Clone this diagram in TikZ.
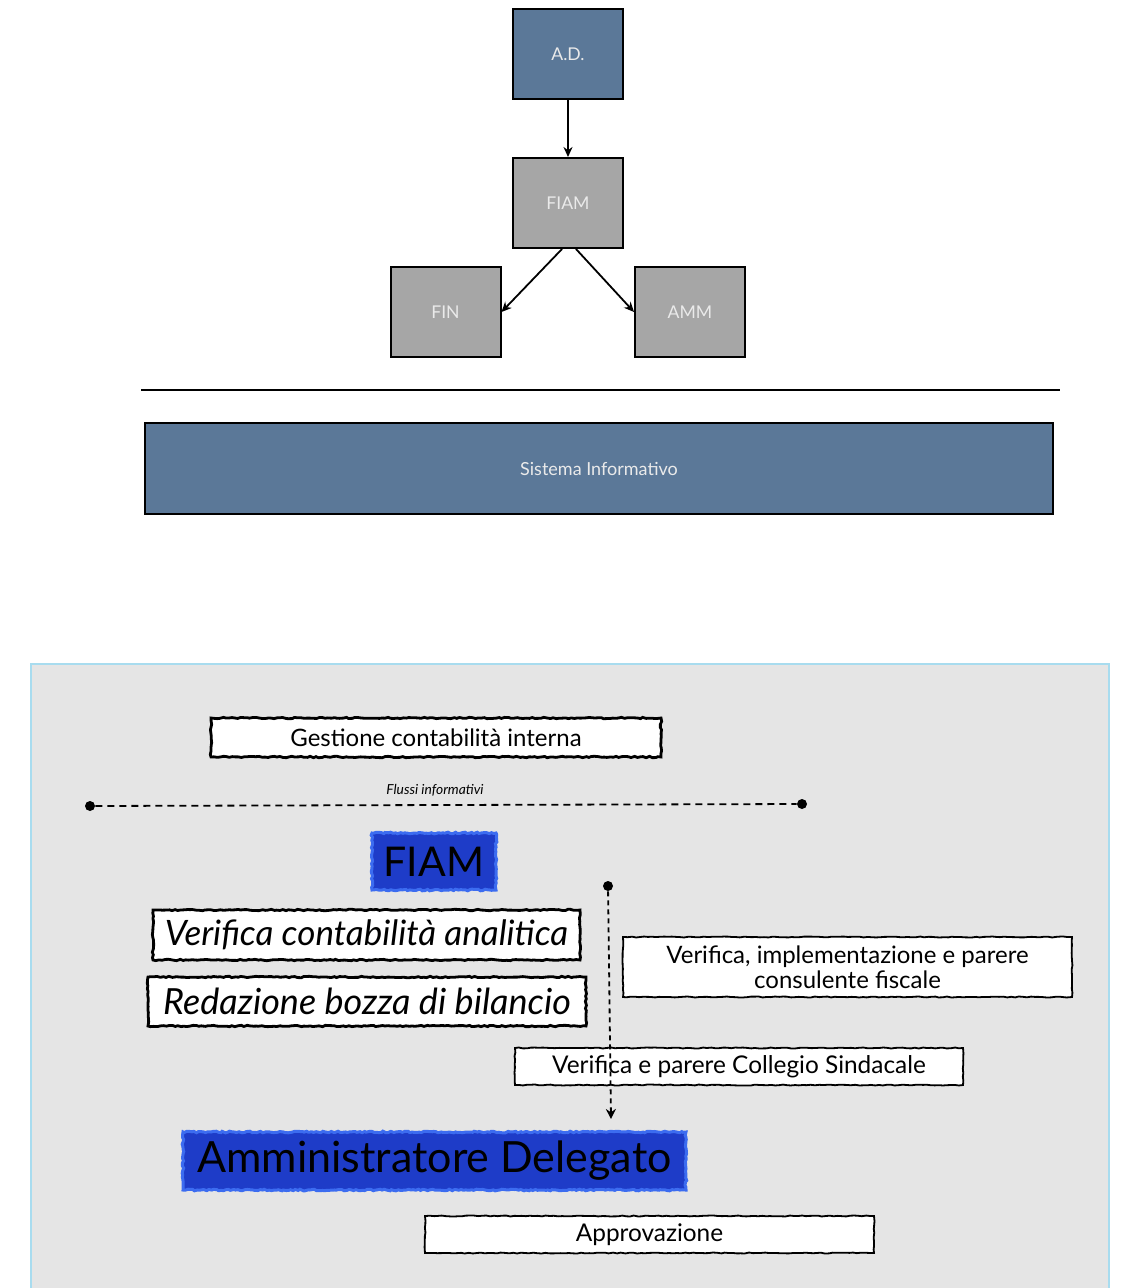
\documentclass[tikz,border=0pt]{standalone}
\usepackage{fontspec}
\setmainfont{Lato}
\usetikzlibrary{arrows.meta,decorations.pathmorphing}
\definecolor{steel}{HTML}{5B7898}
\definecolor{boxgray}{HTML}{A6A6A6}
\definecolor{panel}{HTML}{E5E5E5}
\definecolor{paneledge}{HTML}{A8DCEF}
\definecolor{brightblue}{HTML}{1E3CC8}
\definecolor{blueedge}{HTML}{3C6CF0}
\definecolor{txtlight}{HTML}{EAEAEA}
\tikzset{
  topbox/.style={draw=black, line width=1pt, minimum width=55pt, minimum height=45pt, inner sep=0pt, text=txtlight, font=\fontsize{8.8}{10}\selectfont},
  rough/.style={draw=black, line width=1.4pt, fill=white, inner sep=0pt,
     decorate, decoration={random steps, segment length=1.5pt, amplitude=0.35pt}},
  thinrough/.style={draw=black, line width=0.9pt, fill=white, inner sep=0pt,
     decorate, decoration={random steps, segment length=2pt, amplitude=0.25pt}},
  bluebox/.style={fill=brightblue, draw=blueedge, line width=1.5pt, inner sep=0pt,
     decorate, decoration={random steps, segment length=1.2pt, amplitude=0.4pt}},
  conn/.style={-{Stealth[length=5pt,width=4.5pt]}, line width=0.9pt},
  dot/.style={circle, fill=black, inner sep=0pt, minimum size=5pt},
}
\pgfmathsetseed{7}
\begin{document}
\begin{tikzpicture}[x=0.5pt,y=-0.5pt]
\useasboundingbox (0,0) rectangle (1126,1288);
% top part
\node[topbox, fill=steel] (ad) at (568,54) {A.D.};
\node[topbox, fill=boxgray] (fiam) at (568,203) {FIAM};
\node[topbox, fill=boxgray] (fin) at (445.5,312) {FIN};
\node[topbox, fill=boxgray] (amm) at (690,312) {AMM};
\draw[conn] (ad.south) -- (fiam.north);
\draw[conn] ([xshift=-3pt]fiam.south) -- (fin.east);
\draw[conn] ([xshift=4pt]fiam.south) -- (amm.west);
\coordinate (sepl) at (141,390);
\coordinate (sepr) at (1060,390);
\draw[line width=1.2pt] (sepl) -- (sepr);
\node[draw=black, line width=1pt, fill=steel, minimum width=454pt, minimum height=45.5pt, inner sep=0pt, text=txtlight, font=\fontsize{9}{10}\selectfont] (si) at (599,468.5) {Sistema Informativo};
% bottom panel
\fill[panel] (31,664) rectangle (1109,1300);
\draw[paneledge, line width=1.2pt] (31,1300) -- (31,664) -- (1109,664) -- (1109,1300);
\node[rough, minimum width=225pt, minimum height=19.5pt, font=\fontsize{12}{14}\selectfont] (gest) at (436,737.5) {Gestione contabilità interna};
\node[font=\itshape\fontsize{6.9}{8}\selectfont] (flussi) at (435,790) {Flussi informativi};
\node[dot] (dl) at (90,806) {};
\node[dot] (dr) at (802,804) {};
\draw[line width=0.9pt, dash pattern=on 3.5pt off 2.5pt] (dl) -- (dr);
\node[bluebox, minimum width=62pt, minimum height=28.5pt, font=\fontsize{20.5}{22}\selectfont] (fiamb) at (434,861.5) {FIAM};
\node[rough, minimum width=213.5pt, minimum height=25pt, font=\itshape\fontsize{17.5}{19}\selectfont] (vca) at (366.5,935) {Verifica contabilità analitica};
\node[rough, minimum width=219pt, minimum height=24.5pt, font=\itshape\fontsize{18}{20}\selectfont] (rbb) at (367,1001.5) {Redazione bozza di bilancio};
\node[thinrough, minimum width=224.5pt, minimum height=30pt, align=center, font=\fontsize{12}{12.5}\selectfont] (vip) at (847.5,967) {Verifica, implementazione e parere\\consulente fiscale};
\node[thinrough, minimum width=224pt, minimum height=18.5pt, font=\fontsize{12.2}{14}\selectfont] (vcs) at (739,1066.5) {Verifica e parere Collegio Sindacale};
\node[dot, minimum size=5pt] (vt) at (608,886) {};
\coordinate (vb) at (611,1119);
\draw[line width=0.9pt, dash pattern=on 2.5pt off 2pt, -{Stealth[length=5pt,width=5pt]}] (vt) -- (vb);
\node[bluebox, minimum width=251.5pt, minimum height=29pt, font=\fontsize{21.5}{23}\selectfont] (adb) at (434.5,1161) {Amministratore Delegato};
\node[thinrough, minimum width=224.5pt, minimum height=18.5pt, font=\fontsize{12.2}{14}\selectfont] (appr) at (649.5,1234.5) {Approvazione};
\end{tikzpicture}
\end{document}
